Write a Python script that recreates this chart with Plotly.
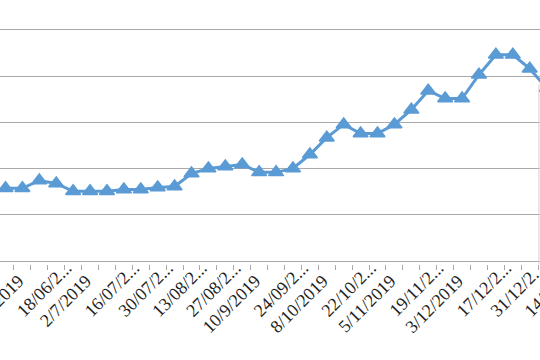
import plotly.graph_objects as go

# Weekly categories (as shown on the axis of the original chart)
CATEGORIES = [
    "21/05/2019", "28/05/2019", "4/6/2019", "11/6/2019", "18/06/2019", "25/06/2019",
    "2/7/2019", "9/7/2019", "16/07/2019", "23/07/2019", "30/07/2019", "6/8/2019",
    "13/08/2019", "20/08/2019", "27/08/2019", "3/9/2019", "10/9/2019", "17/09/2019",
    "24/09/2019", "1/10/2019", "8/10/2019", "15/10/2019", "22/10/2019", "29/10/2019",
    "5/11/2019", "12/11/2019", "19/11/2019", "26/11/2019", "3/12/2019", "10/12/2019",
    "17/12/2019", "24/12/2019", "31/12/2019", "7/1/2020", "14/01/2020",
]

DATES = CATEGORIES[1:34]
VALUES = [
    31.5, 31.5, 34.9, 33.6, 30.2, 30.2, 30.2, 31.0, 31.0, 31.9, 32.3,
    37.9, 40.1, 40.9, 41.8, 38.4, 38.4, 40.1, 46.1, 53.4, 59.1, 55.2,
    55.2, 59.1, 65.5, 73.7, 70.3, 70.3, 80.6, 89.2, 89.2, 83.2, 74.8,
]

Y_MIN, Y_MAX, Y_STEP = 0, 100, 20

BLUE = "#5B9BD5"
GRID = "#A9A9A9"
TXT = "#1f1f1f"
FONT = dict(family="Liberation Serif", size=18, color=TXT)

# every other category is labelled; long labels are cut like Excel does
labelled = [i for i in range(len(CATEGORIES)) if i % 2 == 0]
full_idx = [i for i in labelled if len(CATEGORIES[i]) <= 9]
cut_idx = [i for i in labelled if len(CATEGORIES[i]) > 9]


def cut(label):
    return label[:7] + "..."


px_per_cat = 16.91
W, H = 540, 360
k0 = CATEGORIES.index(DATES[0])
r0 = k0 - 5.5 / px_per_cat
r1 = r0 + W / px_per_cat

# value 100 at y=30px, value 0 at y=261.6px, small padding so edge grid shows
ppu = (261.6 - 30) / (Y_MAX - Y_MIN)
pad = 1.2
top_m = 30 - pad * ppu
bot_m = H - (261.6 + pad * ppu)

fig = go.Figure()
fig.add_trace(go.Scatter(
    x=DATES, y=VALUES, mode="lines+markers",
    line=dict(color=BLUE, width=3),
    marker=dict(symbol="triangle-up", size=13, color=BLUE,
                line=dict(color=BLUE, width=1.5)),
    cliponaxis=True, showlegend=False, hoverinfo="skip",
))
# helper trace carrying the second (cut-label) axis
fig.add_trace(go.Scatter(x=[None], y=[None], xaxis="x2", showlegend=False,
                         hoverinfo="skip"))

fig.add_shape(type="line", xref="paper", yref="paper", x0=0.998, x1=0.998,
              y0=0, y1=0.76, line=dict(color="#D4D4D4", width=1))

shift_steps = 2  # cut labels are set two steps early and shifted back
fig.update_layout(
    width=W, height=H,
    margin=dict(l=0, r=0, t=top_m, b=bot_m, pad=0, autoexpand=False),
    paper_bgcolor="white", plot_bgcolor="white",
    font=FONT,
    xaxis=dict(
        type="category", categoryorder="array", categoryarray=CATEGORIES,
        range=[r0, r1], tickmode="array", tickvals=CATEGORIES,
        ticktext=[CATEGORIES[i] if i in full_idx else "" for i in range(len(CATEGORIES))],
        tickangle=-45, tickson="boundaries", ticks="outside", ticklen=5,
        tickcolor=GRID, showline=False, showgrid=False, zeroline=False,
        tickfont=FONT, ticklabelshift=-4, ticklabelstandoff=2, automargin=False,
        ticklabeloverflow="allow",
    ),
    xaxis2=dict(
        overlaying="x", anchor="y", side="bottom", type="linear",
        range=[r0, r1], tickmode="array",
        tickvals=[i - shift_steps for i in cut_idx],
        ticktext=[cut(CATEGORIES[i]) for i in cut_idx],
        tickangle=-45, ticks="", showline=False, showgrid=False, zeroline=False,
        tickfont=FONT, automargin=False, ticklabeloverflow="allow",
        ticklabelshift=int(round(shift_steps * px_per_cat + 10)), ticklabelstandoff=-11,
    ),
    yaxis=dict(
        range=[Y_MIN - pad, Y_MAX + pad], tickmode="linear", tick0=0, dtick=Y_STEP,
        showticklabels=False, showgrid=True, gridcolor=GRID, gridwidth=1,
        zeroline=True, zerolinecolor=GRID, zerolinewidth=1, ticks="", automargin=False,
    ),
)

fig.write_html("out.html")
